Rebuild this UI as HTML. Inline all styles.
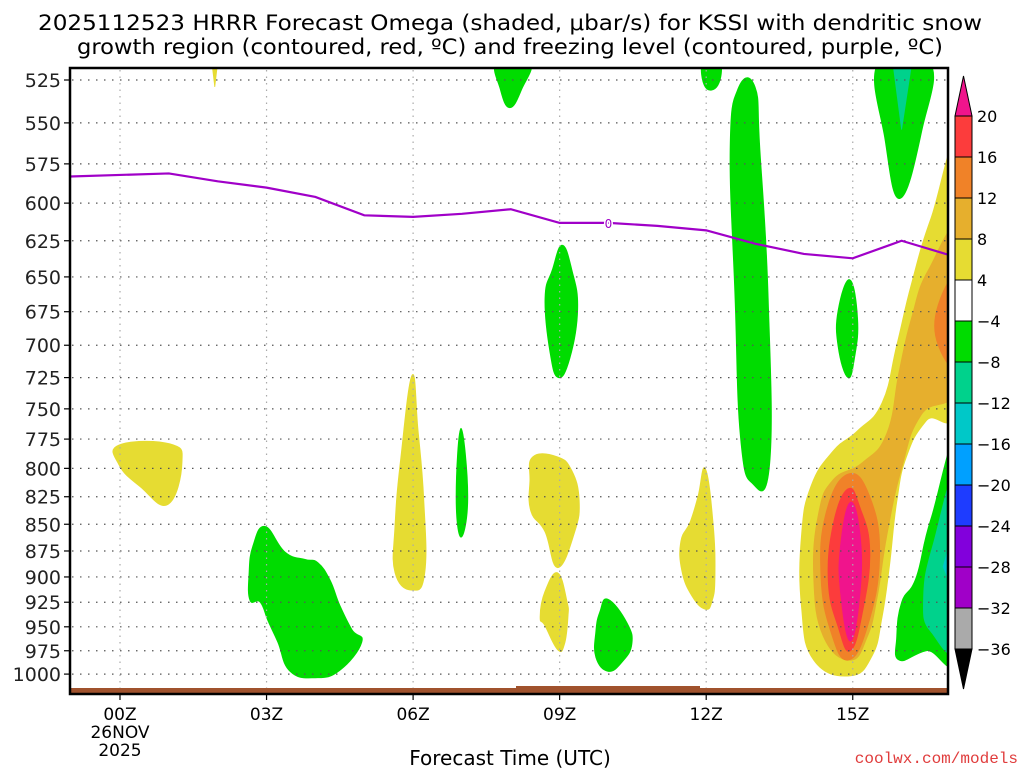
<!DOCTYPE html>
<html><head><meta charset="utf-8"><style>
html,body{margin:0;padding:0;background:#fff;}
svg{display:block;font-family:"DejaVu Sans","Liberation Sans",sans-serif;}
</style></head><body>
<svg id="chart" width="1024" height="768" viewBox="0 0 1024 768" xmlns="http://www.w3.org/2000/svg">
<text x="510" y="30" font-size="21" text-anchor="middle" textLength="944" lengthAdjust="spacingAndGlyphs">2025112523 HRRR Forecast Omega (shaded, μbar/s) for KSSI with dendritic snow</text>
<text x="510" y="54" font-size="21" text-anchor="middle" textLength="866" lengthAdjust="spacingAndGlyphs">growth region (contoured, red, ºC) and freezing level (contoured, purple, ºC)</text>
<defs><clipPath id="plotclip"><rect x="70" y="68" width="878" height="626"/></clipPath></defs>
<g id="shades" clip-path="url(#plotclip)"></g>
<g id="grid"></g>
<g id="fz" clip-path="url(#plotclip)"></g>
<rect x="70" y="688" width="878" height="6" fill="#a0522d"/>
<rect x="516" y="686" width="184" height="4" fill="#a0522d"/>
<rect x="70" y="68" width="878" height="626" fill="none" stroke="#000" stroke-width="2.5"/>
<g id="axes"></g>
<g id="cbar"></g>
<text x="510" y="765" font-size="20" text-anchor="middle">Forecast Time (UTC)</text>
<text x="1018" y="763" font-size="16" text-anchor="end" fill="#e03c3c" font-family="Liberation Mono, monospace">coolwx.com/models</text>
</svg>
<script>
const pressureLevels=[525,550,575,600,625,650,675,700,725,750,775,800,825,850,875,900,925,950,975,1000];
const hourTicks=[0,3,6,9,12,15];
const hourLabels=["00Z","03Z","06Z","09Z","12Z","15Z"];
const cbarLevels=[20,16,12,8,4,-4,-8,-12,-16,-20,-24,-28,-32,-36];
const cbarColors=["#fc3c3c","#f08228","#e6af2d","#e6dc32","#ffffff","#00dc00","#00d28c","#00c8c8","#00a0ff","#1e3cff","#8200dc","#a000c8","#aaaaaa"];
const freezeHours=[-1.1,1,2,3,4,5,6,7,8,9,10,11,12,13,14,15,16,17.1];
const freezePres=[583,581,586,590,596,608,609,607,604,613,613,615,618,627,634,637,625,636];
// omega shaded regions
const shadeColors=["#00dc00","#00dc00","#00dc00","#00dc00","#00d28c","#00dc00","#00dc00","#00dc00","#00dc00","#e6dc32","#e6dc32","#e6dc32","#e6dc32","#e6dc32","#e6dc32","#00dc00","#00dc00","#e6dc32","#e6af2d","#f08228","#f08228","#fc3c3c","#f0148c","#00d28c","#00c8c8"];
const shadeHours=[
[7.72,8.39,8.23,7.98,7.78],
[11.93,12.28,12.24,11.98],
[12.65,13.0,13.1,13.27,13.3,12.94,12.7,12.59,12.49],
[15.52,16.58,16.42,15.97,15.66],
[15.82,16.21,16.0],
[9.05,9.25,9.37,9.21,8.97,8.8,8.7,8.85],
[14.94,15.1,15.04,14.9,14.7,14.7],
[6.98,7.12,6.98,6.88],
[2.97,3.38,3.79,4.05,4.3,4.5,4.75,4.95,4.5,4.0,3.48,3.23,3.03,2.87,2.66,2.64,2.72],
[1.88,2.0,1.94],
[-0.02,1.02,1.27,0.98,0.41,-0.02],
[5.98,6.1,6.22,6.24,5.98,5.63,5.63,5.75],
[8.45,8.95,9.25,9.4,9.31,8.96,8.7,8.41,8.39],
[8.96,9.15,9.17,9.1,8.96,8.7,8.6,8.7],
[11.98,12.14,12.18,12.12,11.98,11.71,11.5,11.48,11.67,11.83],
[9.99,10.38,10.48,10.28,9.99,9.74,9.74,9.82],
[17.2,16.6,16.3,16.0,15.9,15.95,16.5,17.2],
[14.95,14.2,13.95,13.95,14.15,14.6,15.1,15.6,15.9,16.2,16.6,17.2,17.2,16.5,16.1,15.9,15.75,15.6,15.4],
[14.95,14.4,14.2,14.3,14.6,15.2,15.7,15.95,16.2,16.55,17.2,17.2,16.4,16.0,15.7,15.5,15.3],
[17.2,16.75,16.75,17.2],
[14.9,14.45,14.35,14.55,14.9,15.3,15.55,15.35],
[14.9,14.6,14.5,14.7,14.95,15.2,15.35,15.15],
[14.95,14.75,14.75,14.95,15.15,15.15],
[17.2,16.65,16.45,16.6,17.2],
[17.2,16.85,17.2]
];
const shadePres=[
[515,515,530,541,530],
[515,515,528,529],
[530,529,566,665,796,813,773,665,566],
[515,515,554,597,560],
[515,515,554],
[628,645,673,710,725,705,665,645],
[652,680,709,725,701,674],
[766,825,862,825],
[852,876,883,886,903,928,953,966,996,1004,997,966,944,925,923,897,870],
[515,515,529],
[780,779,795,832,816,797],
[723,767,828,896,913,896,851,790],
[790,790,802,828,857,891,857,838,811],
[896,924,940,968,974,949,940,914],
[800,848,899,924,932,919,894,866,848,825],
[922,946,968,987,997,982,955,935],
[775,845,900,925,960,985,975,970],
[1002,985,930,860,815,785,768,745,700,655,610,565,735,760,790,830,890,940,980],
[985,960,900,840,810,795,770,720,680,645,620,725,755,800,860,920,960],
[650,670,700,715],
[805,840,900,955,985,950,880,825],
[818,850,905,950,975,935,875,835],
[830,870,915,965,915,860],
[800,868,920,955,962],
[835,890,930]
];

const NS="http://www.w3.org/2000/svg";
function X(h){return 120+48.85*h;}
function Y(p){return 80+922*Math.log(p/525);}
function mk(tag,attrs,parent){const e=document.createElementNS(NS,tag);for(const k in attrs)e.setAttribute(k,attrs[k]);parent.appendChild(e);return e;}
function smoothPath(pts){
  const n=pts.length;if(n<4){return 'M'+pts.map(p=>p.join(',')).join('L')+'Z';}
  let d='M'+pts[0][0].toFixed(1)+','+pts[0][1].toFixed(1);
  const t=0.22;
  for(let i=0;i<n;i++){
    const p0=pts[(i-1+n)%n],p1=pts[i],p2=pts[(i+1)%n],p3=pts[(i+2)%n];
    const c1=[p1[0]+(p2[0]-p0[0])*t,p1[1]+(p2[1]-p0[1])*t];
    const c2=[p2[0]-(p3[0]-p1[0])*t,p2[1]-(p3[1]-p1[1])*t];
    d+='C'+c1[0].toFixed(1)+','+c1[1].toFixed(1)+' '+c2[0].toFixed(1)+','+c2[1].toFixed(1)+' '+p2[0].toFixed(1)+','+p2[1].toFixed(1);
  }
  return d+'Z';
}

const shades=document.getElementById('shades');
for(let i=0;i<shadeHours.length;i++){
  const pts=shadeHours[i].map((h,j)=>[X(h),Y(shadePres[i][j])]);
  const col=shadeColors[i];
  const pg=mk('path',{d:smoothPath(pts),fill:col,stroke:col,'stroke-width':0.8},shades);
  
  
}

const grid=document.getElementById('grid');
const axes=document.getElementById('axes');
pressureLevels.forEach(p=>{
  const y=Y(p);
  const l=mk('line',{x1:72,x2:946,y1:y,y2:y,stroke:'#555','stroke-width':1.2,'stroke-dasharray':'1.5,6.5'},grid);
  
  
  const t=mk('line',{x1:64,x2:70,y1:y,y2:y,stroke:'#000','stroke-width':1.2},axes);
  
  
  const tx=mk('text',{x:61,y:y+7,'font-size':19,'text-anchor':'end',fill:'#222'},axes);
  tx.textContent=p;
  
  
});
hourTicks.forEach((h,i)=>{
  const x=X(h);
  const l=mk('line',{x1:x,x2:x,y1:70,y2:688,stroke:'#aaa','stroke-width':1.2,'stroke-dasharray':'1.5,5'},grid);
  
  
  const t=mk('line',{x1:x,x2:x,y1:694,y2:700,stroke:'#000','stroke-width':1.2},axes);
  
  
  const tx=mk('text',{x:x,y:720,'font-size':17,'text-anchor':'middle'},axes);
  tx.textContent=hourLabels[i];
  
  
});
const d1=mk('text',{x:X(0),y:738,'font-size':17,'text-anchor':'middle'},axes);d1.textContent="26NOV";


const d2=mk('text',{x:X(0),y:756,'font-size':17,'text-anchor':'middle'},axes);d2.textContent="2025";



const fz=document.getElementById('fz');
const fl=mk('polyline',{points:freezeHours.map((h,i)=>X(h)+','+Y(freezePres[i])).join(' '),fill:'none',stroke:'#a000c8','stroke-width':2.2},fz);


const fzl=mk('text',{x:X(10),y:Y(613)+5,'font-size':12,'text-anchor':'middle',fill:'#a000c8',stroke:'#fff','stroke-width':3,'paint-order':'stroke'},fz);
fzl.textContent="0";



const cbar=document.getElementById('cbar');
const cx=955,cw=17,top0=116,step=41;
const tri1=mk('polygon',{points:`${cx},${top0} ${cx+cw},${top0} ${cx+cw/2},${top0-40}`,fill:'#f0148c',stroke:'#000','stroke-width':1},cbar);


cbarColors.forEach((c,i)=>{
  const r=mk('rect',{x:cx,y:top0+i*step,width:cw,height:step,fill:c,stroke:'#000','stroke-width':1},cbar);
  
  
});
const yb=top0+cbarColors.length*step;
const tri2=mk('polygon',{points:`${cx},${yb} ${cx+cw},${yb} ${cx+cw/2},${yb+40}`,fill:'#000',stroke:'#000','stroke-width':1},cbar);


cbarLevels.forEach((v,i)=>{
  const t=mk('text',{x:977,y:top0+i*step+6,'font-size':16},cbar);
  t.textContent=v<0?('\u2212'+(-v)):String(v);
  
  
});
</script>
</body></html>
